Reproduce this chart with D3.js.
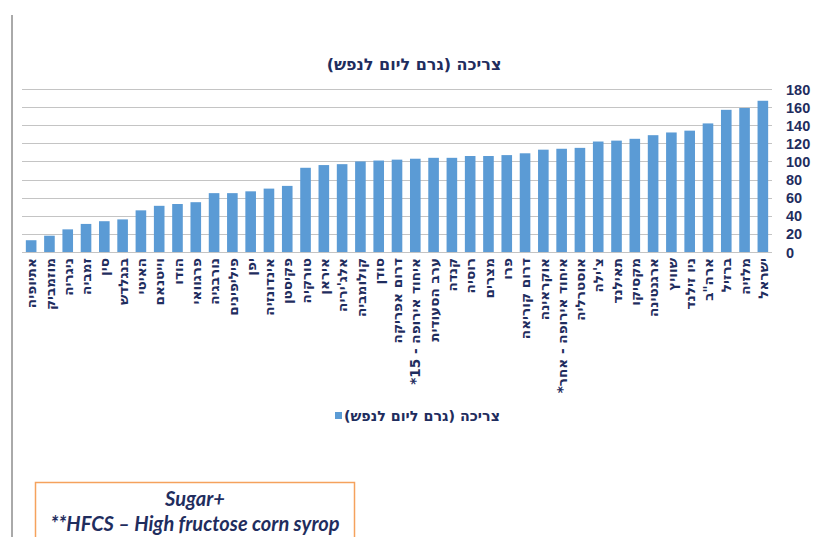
<!DOCTYPE html>
<html><head><meta charset="utf-8">
<script src="https://cdn.jsdelivr.net/npm/d3@7"></script>
<style>html,body{margin:0;padding:0;background:#fff;}svg{display:block;}</style>
</head><body>
<script>
const categories = ["אתיופיה","מוזמביק","ניגריה","זמביה","סין","בנגלדש","האיטי","וייטנאם","הודו","פרגוואי","נורבגיה","פיליפינים","יפן","אינדונזיה","פקיסטן","טורקיה","איראן","אלג'יריה","קולומביה","סודן","דרום אפריקה","איחוד אירופה - 15*","ערב הסעודית","קנדה","רוסיה","מצרים","פרו","דרום קוריאה","אוקראינה","איחוד אירופה - אחר*","אוסטרליה","צ'ילה","תאילנד","מקסיקו","ארגנטינה","שוויץ","ניו זילנד","ארה\"ב","ברזיל","מלזיה","ישראל"];
const values = [13,18,25,31,34,36,46,51,53,55,65,65,67,70,73,93,96,97,100,101,102,103,104,104,106,106,107,109,113,114,115,122,123,125,129,132,134,142,157,159,167];
const yTicks = [0,20,40,60,80,100,120,140,160,180];
const title = "צריכה (גרם ליום לנפש)";
const seriesName = "צריכה (גרם ליום לנפש)";
const noteLines = ["Sugar+","**HFCS – High fructose corn syrop"];

const W = 818, H = 537;
const navy = "#1f2d5e";
const barColor = "#5b9bd5";
const hebFont = "'DejaVu Sans', sans-serif";
const numFont = "'Liberation Sans', Arial, sans-serif";

const svg = d3.select("body").append("svg").attr("width", W).attr("height", H);

svg.append("line").attr("x1",12).attr("x2",12).attr("y1",15).attr("y2",H)
  .attr("stroke","#555").attr("stroke-width",1);

const x = d3.scaleBand().domain(categories).range([22, 772]).paddingInner(0.42).paddingOuter(0.21);
const y = d3.scaleLinear().domain([0,180]).range([252, 89]);

svg.append("g").selectAll("line").data(yTicks).join("line")
  .attr("x1",22).attr("x2",772)
  .attr("y1",d=>Math.round(y(d))+0.5).attr("y2",d=>Math.round(y(d))+0.5)
  .attr("stroke","#c4c4c4").attr("stroke-width",1);

svg.append("g").selectAll("rect").data(values).join("rect")
  .attr("x",(d,i)=>x(categories[i]))
  .attr("width",x.bandwidth())
  .attr("y",d=>y(d))
  .attr("height",d=>y(0)-y(d))
  .attr("fill",barColor);

const yAxis = d3.axisRight(y).tickValues(yTicks).tickSize(0).tickPadding(0);
const ga = svg.append("g").attr("transform","translate(786,0)").call(yAxis);
ga.select(".domain").remove();
ga.selectAll("text").attr("fill",navy).attr("font-family",numFont)
  .attr("font-size",14.5).attr("font-weight","bold").attr("dy","0.35em").attr("x",0);

const xAxis = d3.axisBottom(x).tickSize(0).tickPadding(0);
const gx = svg.append("g").attr("transform","translate(0,258)").call(xAxis);
gx.select(".domain").remove();
gx.selectAll("text")
  .attr("transform","rotate(-90)")
  .attr("direction","rtl")
  .attr("text-anchor","start")
  .attr("x",0).attr("y",0).attr("dy","0.38em")
  .attr("fill",navy).attr("font-family",hebFont)
  .attr("font-size",13.6).attr("font-weight","bold");

svg.append("text").attr("x",414).attr("y",70).attr("text-anchor","middle")
  .attr("direction","rtl")
  .attr("fill",navy).attr("font-family",hebFont).attr("font-size",16).attr("font-weight","bold")
  .text(title);

svg.append("rect").attr("x",335).attr("y",412).attr("width",7).attr("height",7).attr("fill",barColor);
svg.append("text").attr("x",500).attr("y",420.5).attr("direction","rtl").attr("text-anchor","start")
  .attr("fill",navy).attr("font-family",hebFont).attr("font-size",14.3).attr("font-weight","bold")
  .text(seriesName);

svg.append("rect").attr("x",35.5).attr("y",482.5).attr("width",319).attr("height",80)
  .attr("fill","none").attr("stroke","#f5a25d").attr("stroke-width",1.5);
svg.append("g").selectAll("text").data(noteLines).join("text")
  .attr("x",195).attr("y",(d,i)=>506+i*25).attr("text-anchor","middle")
  .attr("fill",navy).attr("font-family","Lato, 'Open Sans', sans-serif")
  .attr("font-size",20).attr("font-weight","bold").attr("font-style","italic")
  .text(d=>d);
</script>
</body></html>
